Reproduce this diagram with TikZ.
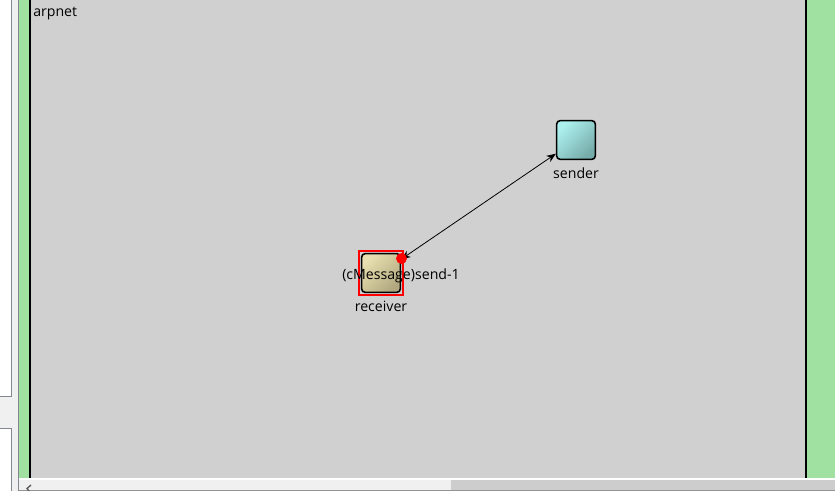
\documentclass[tikz,border=0pt]{standalone}
\usepackage{fontspec}
\setmainfont{Open Sans}
\usetikzlibrary{arrows.meta,shadings}
\definecolor{canvascol}{RGB}{208,208,208}
\definecolor{greencol}{RGB}{160,224,160}
\definecolor{panelcol}{RGB}{240,240,240}
\definecolor{edgecol}{RGB}{130,135,144}
\definecolor{barcol}{RGB}{205,205,205}
\definecolor{senderhi}{RGB}{172,240,238}
\definecolor{senderlo}{RGB}{118,172,170}
\definecolor{receiverhi}{RGB}{232,224,176}
\definecolor{receiverlo}{RGB}{178,168,128}
\tikzset{
  module/.style={draw=black,line width=1.2pt,rounded corners=2.6pt,minimum size=29pt,inner sep=0pt},
  sendermod/.style={module,top color=senderhi,bottom color=senderlo,shading angle=45},
  receivermod/.style={module,top color=receiverhi,bottom color=receiverlo,shading angle=45},
  modlabel/.style={font=\fontsize{10.6pt}{12pt}\selectfont,inner sep=0pt,text=black},
  linkedge/.style={{Stealth[length=7pt,width=5.5pt]}-{Stealth[length=7pt,width=5.5pt]},draw=black,line width=0.6pt},
  panel/.style={draw=edgecol,line width=0.75pt,fill=white}
}
\begin{document}
\begin{tikzpicture}[x=0.75pt,y=-0.75pt]
\useasboundingbox (0,0) rectangle (835,491);
% ---- window around the canvas ----
\fill[panelcol] (0,0) rectangle (835,491);
\draw[panel] (-2,-2) rectangle (11,397);
\draw[panel] (-2,428) rectangle (11,493);
\fill[greencol] (19,0) rectangle (835,478);
\fill[canvascol] (30,0) rectangle (806,478);
\draw[edgecol,line width=0.75pt] (18.5,0) -- (18.5,491);
\draw[black,line width=1.5pt] (30,0) -- (30,478);
\draw[black,line width=1.5pt] (806,0) -- (806,478);
% ---- scroll bar ----
\fill[white] (19,478) rectangle (835,479.5);
\fill[barcol] (451,479.5) rectangle (835,490);
\fill[black!42] (19,490) rectangle (835,491);
\draw[black!65,line width=1pt] (31,485) -- (27,488.5) -- (29,491);
% ---- network ----
\node[modlabel,anchor=west] (netname) at (33,13.5) {arpnet};
\node[sendermod] (sender) at (576,140) {};
\node[receivermod] (receiver) at (381,273) {};
\draw[linkedge] (sender) -- (receiver);
\node[modlabel] (senderlabel) at (576,173) {sender};
\node[modlabel] (receiverlabel) at (381,306) {receiver};
\node[draw=red,line width=1.5pt,minimum size=33pt,inner sep=0pt] (highlight) at (381,273) {};
\node[circle,fill=red,minimum size=8.2pt,inner sep=0pt] (msgdot) at (401.5,258.5) {};
\node[modlabel] (msglabel) at (401,275.5) {(cMessage)send-1};
\end{tikzpicture}
\end{document}
